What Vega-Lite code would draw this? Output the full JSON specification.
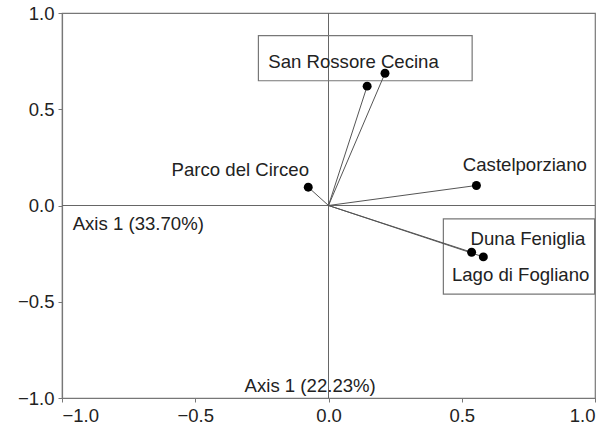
{
  "$schema": "https://vega.github.io/schema/vega-lite/v6.json",
  "width": 533,
  "height": 385,
  "autosize": {"type": "none"},
  "padding": {"left": 62, "top": 13, "right": 16, "bottom": 37},
  "background": "white",
  "config": {
    "view": {"stroke": "#777", "strokeWidth": 1.2},
    "font": "Liberation Sans",
    "axis": {
      "grid": false,
      "domainColor": "#777",
      "domainWidth": 1.2,
      "tickColor": "#777",
      "tickSize": 4,
      "labelFont": "Liberation Sans",
      "labelFontSize": 18.5,
      "labelColor": "#222",
      "titleFontSize": 0
    }
  },
  "datasets": {
    "origin": [{"x": 0, "y": 0}],
    "points": [
      {"name": "San Rossore", "x": 0.145, "y": 0.62},
      {"name": "Cecina", "x": 0.212, "y": 0.687},
      {"name": "Parco del Circeo", "x": -0.076, "y": 0.095},
      {"name": "Castelporziano", "x": 0.555, "y": 0.104},
      {"name": "Duna Feniglia", "x": 0.537, "y": -0.243},
      {"name": "Lago di Fogliano", "x": 0.581, "y": -0.267}
    ],
    "labels": [
      {"label": "San Rossore Cecina", "x": -0.226, "y": 0.745, "align": "left"},
      {"label": "Parco del Circeo", "x": -0.073, "y": 0.184, "align": "right"},
      {"label": "Castelporziano", "x": 0.504, "y": 0.21, "align": "left"},
      {"label": "Axis 1 (33.70%)", "x": -0.96, "y": -0.094, "align": "left"},
      {"label": "Duna Feniglia", "x": 0.533, "y": -0.174, "align": "left"},
      {"label": "Lago di Fogliano", "x": 0.463, "y": -0.359, "align": "left"},
      {"label": "Axis 1 (22.23%)", "x": -0.315, "y": -0.9375, "align": "left"}
    ],
    "boxes": [
      {"x": -0.263, "x2": 0.539, "y": 0.648, "y2": 0.882},
      {"x": 0.431, "x2": 0.9985, "y": -0.46, "y2": -0.069}
    ]
  },
  "layer": [
    {
      "data": {"name": "origin"},
      "mark": {"type": "rule", "color": "#666", "strokeWidth": 1},
      "encoding": {"y": {"field": "y", "type": "quantitative"}}
    },
    {
      "data": {"name": "origin"},
      "mark": {"type": "rule", "color": "#666", "strokeWidth": 1},
      "encoding": {"x": {"field": "x", "type": "quantitative"}}
    },
    {
      "data": {"name": "boxes"},
      "mark": {"type": "rect", "fill": null, "stroke": "#777", "strokeWidth": 1.2},
      "encoding": {
        "x": {"field": "x", "type": "quantitative"},
        "x2": {"field": "x2"},
        "y": {"field": "y", "type": "quantitative"},
        "y2": {"field": "y2"}
      }
    },
    {
      "data": {"name": "points"},
      "mark": {"type": "rule", "color": "#555", "strokeWidth": 1},
      "encoding": {
        "x": {"field": "x", "type": "quantitative"},
        "y": {"field": "y", "type": "quantitative"},
        "x2": {"datum": 0},
        "y2": {"datum": 0}
      }
    },
    {
      "data": {"name": "points"},
      "mark": {"type": "circle", "color": "#000", "opacity": 1, "size": 80},
      "encoding": {
        "x": {"field": "x", "type": "quantitative"},
        "y": {"field": "y", "type": "quantitative"}
      }
    },
    {
      "data": {"name": "labels"},
      "transform": [{"filter": "datum.align == 'left'"}],
      "mark": {"type": "text", "align": "left", "baseline": "middle", "fontSize": 18.6, "color": "#222", "font": "Liberation Sans"},
      "encoding": {
        "x": {"field": "x", "type": "quantitative"},
        "y": {"field": "y", "type": "quantitative"},
        "text": {"field": "label"}
      }
    },
    {
      "data": {"name": "labels"},
      "transform": [{"filter": "datum.align == 'right'"}],
      "mark": {"type": "text", "align": "right", "baseline": "middle", "fontSize": 18.6, "color": "#222", "font": "Liberation Sans"},
      "encoding": {
        "x": {"field": "x", "type": "quantitative"},
        "y": {"field": "y", "type": "quantitative"},
        "text": {"field": "label"}
      }
    }
  ],
  "encoding": {
    "x": {"type": "quantitative", "scale": {"domain": [-1, 1], "nice": false}, "axis": {"values": [-1, -0.5, 0, 0.5, 1], "format": ".1f", "title": null, "labelPadding": 4}},
    "y": {"type": "quantitative", "scale": {"domain": [-1, 1], "nice": false}, "axis": {"values": [-1, -0.5, 0, 0.5, 1], "format": ".1f", "title": null, "labelPadding": 4}}
  }
}
